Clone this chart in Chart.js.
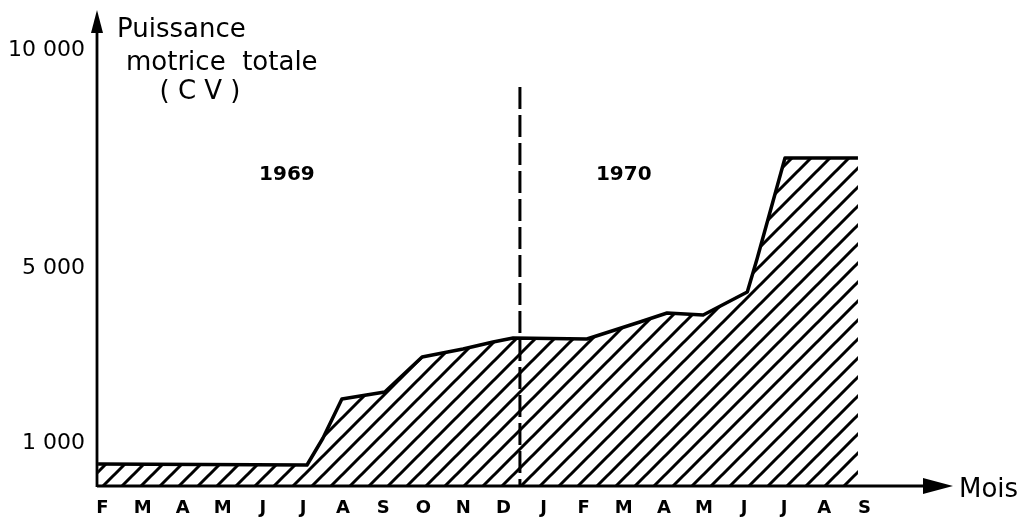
<!DOCTYPE html>
<html>
<head>
<meta charset="utf-8">
<script src="https://cdn.jsdelivr.net/npm/chart.js@4"></script>
<style>
  body { margin: 0; background: #fff; }
  canvas { display: block; }
</style>
</head>
<body>
<canvas id="chart" width="1027" height="520"></canvas>
<script>
// month labels, Feb 1969 -> Sep 1970
const months = ["F", "M", "A", "M", "J", "J", "A", "S", "O", "N", "D", "J", "F", "M", "A", "M", "J", "J", "A", "S"];
// position along the month axis (0 = F 1969) and total power (CV)
const monthPos = [-0.11, 5.1, 5.5, 5.97, 7.04, 7.97, 8.99, 9.74, 10.24, 12.08, 13.4, 14.08, 14.98, 16.08, 16.33, 17.02, 18.84];
const power = [526, 503, 1121, 2014, 2174, 2975, 3158, 3318, 3410, 3387, 3776, 3982, 3936, 4462, 5240, 7529, 7529];
const yTicks = [1000, 5000, 10000];
// year split (between D 1969 and J 1970)
const yearSplit = 10.41;
const yearSplitTop = 9153;
const yearLabels = [{ text: "1969", x: 4.6, y: 7140 }, { text: "1970", x: 13.0, y: 7140 }];

const FONT = "DejaVu Sans";

function hatch() {
  const s = 19;
  const c = document.createElement("canvas");
  c.width = s; c.height = s;
  const g = c.getContext("2d");
  g.strokeStyle = "#000";
  g.lineWidth = 3;
  g.beginPath();
  g.moveTo(-2, s + 2); g.lineTo(s + 2, -2);
  g.moveTo(-3, 3); g.lineTo(3, -3);
  g.moveTo(s - 3, s + 3); g.lineTo(s + 3, s - 3);
  g.stroke();
  return g.createPattern(c, "repeat");
}

const decor = {
  id: "decor",
  afterDraw(chart) {
    const ctx = chart.ctx;
    const a = chart.chartArea;
    const xs = chart.scales.x, ys = chart.scales.y;
    ctx.save();
    ctx.strokeStyle = "#000";
    ctx.fillStyle = "#000";
    // axes
    ctx.lineWidth = 2.8;
    ctx.beginPath();
    ctx.moveTo(a.left, a.bottom);
    ctx.lineTo(a.left, a.top + 10);
    ctx.moveTo(a.left, a.bottom - 1);
    ctx.lineTo(a.right - 20, a.bottom - 1);
    ctx.stroke();
    // arrow heads
    ctx.beginPath();
    ctx.moveTo(a.left, a.top);
    ctx.lineTo(a.left - 6, a.top + 23);
    ctx.lineTo(a.left + 6, a.top + 23);
    ctx.closePath();
    ctx.fill();
    ctx.beginPath();
    ctx.moveTo(a.right, a.bottom - 1);
    ctx.lineTo(a.right - 30, a.bottom - 9);
    ctx.lineTo(a.right - 30, a.bottom + 7);
    ctx.closePath();
    ctx.fill();
    // axis titles
    ctx.font = "26px '" + FONT + "'";
    ctx.textBaseline = "alphabetic";
    ctx.textAlign = "left";
    ctx.fillText("Puissance", 117, 37);
    ctx.fillText("motrice  totale", 126, 70);
    ctx.textAlign = "center";
    ctx.fillText("( C V )", 200, 99);
    ctx.textAlign = "left";
    ctx.fillText("Mois", 959, 497);
    // year labels
    ctx.font = "bold 20px '" + FONT + "'";
    ctx.textAlign = "center";
    ctx.textBaseline = "middle";
    yearLabels.forEach(l => ctx.fillText(l.text, xs.getPixelForValue(l.x), ys.getPixelForValue(l.y)));
    ctx.restore();
  }
};

new Chart(document.getElementById("chart"), {
  type: "line",
  data: {
    datasets: [
      {
        data: monthPos.map((m, i) => ({ x: m, y: power[i] })),
        borderColor: "#000",
        borderWidth: 3.5,
        backgroundColor: hatch(),
        fill: "origin",
        pointRadius: 0,
        tension: 0,
        borderJoinStyle: "round",
      },
      {
        data: [{ x: yearSplit, y: yearSplitTop }, { x: yearSplit, y: 0 }],
        borderColor: "#000",
        borderWidth: 3,
        borderDash: [22, 6],
        pointRadius: 0,
        fill: false,
      },
    ],
  },
  options: {
    responsive: false,
    animation: false,
    layout: { padding: { top: 10, right: 74, left: 0, bottom: 0 } },
    plugins: { legend: { display: false }, tooltip: { enabled: false } },
    scales: {
      x: {
        type: "linear",
        min: -0.137,
        max: 21.21,
        grid: { display: false, drawTicks: false },
        border: { display: false },
        afterFit: (s) => { s.height = 33; s.paddingLeft = 0; s.paddingRight = 0; },
        afterBuildTicks: (s) => { s.ticks = months.map((m, i) => ({ value: i })); },
        ticks: {
          autoSkip: false,
          maxRotation: 0,
          padding: 11,
          color: "#000",
          font: { family: FONT, size: 18, weight: "bold" },
          callback: (v) => months[v] ?? "",
        },
      },
      y: {
        min: 0,
        max: 10915,
        grid: { display: false, drawTicks: false },
        border: { display: false },
        afterFit: (s) => { s.width = 97; s.paddingTop = 0; s.paddingBottom = 0; },
        afterBuildTicks: (s) => { s.ticks = yTicks.map(v => ({ value: v })); },
        ticks: {
          padding: 12,
          color: "#000",
          font: { family: FONT, size: 22 },
          callback: (v) => v.toLocaleString("fr-FR").replace(/\s/g, " "),
        },
      },
    },
  },
  plugins: [decor],
});
</script>
</body>
</html>
